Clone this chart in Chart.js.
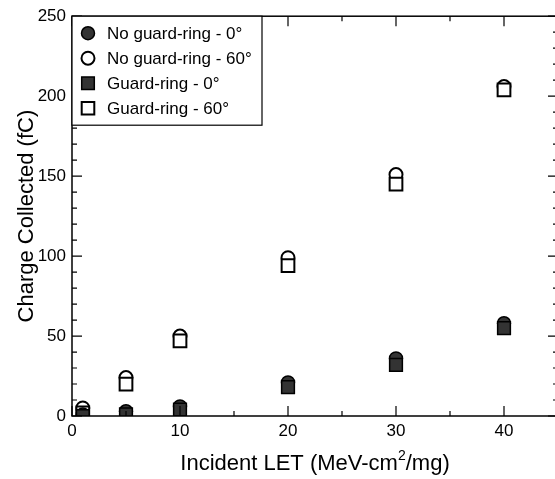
<!DOCTYPE html>
<html>
<head>
<meta charset="utf-8">
<script src="https://cdn.jsdelivr.net/npm/chart.js@4.4.1/dist/chart.umd.min.js"></script>
<style>
html, body { margin: 0; padding: 0; background: #fff; overflow: hidden; }
</style>
</head>
<body>
<canvas id="chart" width="569" height="479"></canvas>
<script>
// LET values (MeV-cm2/mg) and collected charge (fC)
var LET = [1, 5, 10, 20, 30, 40];
var noGuard0 = [1, 3, 6, 21, 36, 58];
var noGuard60 = [5, 24, 50, 99, 151, 206];
var guard0 = [0, 1, 4, 18, 32, 55];
var guard60 = [2, 20, 47, 94, 145, 204];
var seriesNames = ['No guard-ring - 0°', 'No guard-ring - 60°', 'Guard-ring - 0°', 'Guard-ring - 60°'];

var xTicks = [0, 10, 20, 30, 40];
var xMinor = [5, 15, 25, 35];
var yTicks = [0, 50, 100, 150, 200, 250];
var yMinorStep = 10;

var FONT = "'Liberation Sans', Arial, Helvetica, sans-serif";

function toPoints(ys) {
    return LET.map(function (x, i) { return { x: x, y: ys[i] }; });
}

function markerStyle(filled) {
    return {
        backgroundColor: filled ? '#333333' : '#ffffff',
        borderColor: '#000000',
        borderWidth: filled ? 1.5 : 2
    };
}

function drawMarker(ctx, shape, filled, x, y) {
    var s = markerStyle(filled);
    ctx.fillStyle = s.backgroundColor;
    ctx.strokeStyle = s.borderColor;
    ctx.lineWidth = s.borderWidth;
    ctx.beginPath();
    if (shape === 'circle') {
        ctx.arc(x, y, 6.5, 0, Math.PI * 2);
    } else {
        ctx.rect(x - 6.3, y - 6.3, 12.6, 12.6);
    }
    ctx.fill();
    ctx.stroke();
}

var legendItems = [
    { name: seriesNames[0], shape: 'circle', filled: true },
    { name: seriesNames[1], shape: 'circle', filled: false },
    { name: seriesNames[2], shape: 'rect', filled: true },
    { name: seriesNames[3], shape: 'rect', filled: false }
];

var framePlugin = {
    id: 'frame',
    afterDatasetsDraw: function (chart) {
        var ctx = chart.ctx;
        var a = chart.chartArea;
        var xs = chart.scales.x;
        var ys = chart.scales.y;
        ctx.save();

        // box around the plot
        ctx.strokeStyle = '#000';
        ctx.lineWidth = 1.5;
        ctx.strokeRect(a.left, a.top, a.right - a.left, a.bottom - a.top);

        // inward ticks on all four sides
        ctx.lineWidth = 1.2;
        ctx.beginPath();
        function xTick(v, len) {
            var px = xs.getPixelForValue(v);
            ctx.moveTo(px, a.bottom); ctx.lineTo(px, a.bottom - len);
            ctx.moveTo(px, a.top); ctx.lineTo(px, a.top + len);
        }
        function yTick(v, len) {
            var py = ys.getPixelForValue(v);
            ctx.moveTo(a.left, py); ctx.lineTo(a.left + len, py);
            ctx.moveTo(a.right, py); ctx.lineTo(a.right - len, py);
        }
        xTicks.forEach(function (v) { xTick(v, 10); });
        xMinor.forEach(function (v) { xTick(v, 5); });
        for (var v = 0; v <= 250; v += yMinorStep) {
            yTick(v, v % 50 === 0 ? 10 : 5);
        }
        ctx.stroke();

        // legend box in the top left corner
        var bw = 190, bh = 109;
        ctx.fillStyle = '#fff';
        ctx.fillRect(a.left, a.top, bw, bh);
        ctx.lineWidth = 1.2;
        ctx.strokeStyle = '#000';
        ctx.strokeRect(a.left, a.top, bw, bh);
        ctx.font = '17px ' + FONT;
        ctx.textBaseline = 'middle';
        ctx.textAlign = 'left';
        legendItems.forEach(function (it, i) {
            var cy = a.top + 17 + i * 25;
            drawMarker(ctx, it.shape, it.filled, a.left + 16, cy);
            ctx.fillStyle = '#000';
            ctx.fillText(it.name, a.left + 35, cy + 1);
        });

        // x axis title with superscript
        ctx.fillStyle = '#000';
        ctx.textBaseline = 'alphabetic';
        var big = '22px ' + FONT, small = '14px ' + FONT;
        var p1 = 'Incident LET (MeV-cm', p2 = '2', p3 = '/mg)';
        ctx.font = big;
        var w1 = ctx.measureText(p1).width, w3 = ctx.measureText(p3).width;
        ctx.font = small;
        var w2 = ctx.measureText(p2).width;
        var x0 = (a.left + a.right) / 2 - (w1 + w2 + w3) / 2;
        var base = 470;
        ctx.font = big;
        ctx.fillText(p1, x0, base);
        ctx.font = small;
        ctx.fillText(p2, x0 + w1, base - 10);
        ctx.font = big;
        ctx.fillText(p3, x0 + w1 + w2, base);

        // y axis title
        ctx.translate(33, (a.top + a.bottom) / 2);
        ctx.rotate(-Math.PI / 2);
        ctx.textAlign = 'center';
        ctx.fillText('Charge Collected (fC)', 0, 0);

        ctx.restore();
    }
};

var ctx = document.getElementById('chart');
var chart = new Chart(ctx, {
    type: 'scatter',
    data: {
        datasets: [
            Object.assign({ label: seriesNames[0], data: toPoints(noGuard0), pointStyle: 'circle', pointRadius: 6.5, order: 1 }, markerStyle(true)),
            Object.assign({ label: seriesNames[1], data: toPoints(noGuard60), pointStyle: 'circle', pointRadius: 6.5, order: 3 }, markerStyle(false)),
            Object.assign({ label: seriesNames[2], data: toPoints(guard0), pointStyle: 'rect', pointRadius: 9, order: 0 }, markerStyle(true)),
            Object.assign({ label: seriesNames[3], data: toPoints(guard60), pointStyle: 'rect', pointRadius: 9, order: 2 }, markerStyle(false))
        ]
    },
    options: {
        responsive: false,
        animation: false,
        events: [],
        layout: { padding: { left: 0, right: 2, top: 15, bottom: 0 } },
        plugins: {
            legend: { display: false },
            tooltip: { enabled: false }
        },
        scales: {
            x: {
                type: 'linear',
                min: 0,
                max: 45,
                grid: { display: false, drawTicks: false },
                border: { display: false },
                ticks: { color: '#000', padding: 5, font: { family: FONT, size: 17 } },
                afterBuildTicks: function (s) { s.ticks = xTicks.map(function (v) { return { value: v }; }); },
                afterFit: function (s) { s.height = 63; }
            },
            y: {
                type: 'linear',
                min: 0,
                max: 250,
                grid: { display: false, drawTicks: false },
                border: { display: false },
                ticks: { color: '#000', padding: 6, font: { family: FONT, size: 17 } },
                afterBuildTicks: function (s) { s.ticks = yTicks.map(function (v) { return { value: v }; }); },
                afterFit: function (s) { s.width = 72; }
            }
        }
    },
    plugins: [framePlugin]
});
</script>
</body>
</html>
